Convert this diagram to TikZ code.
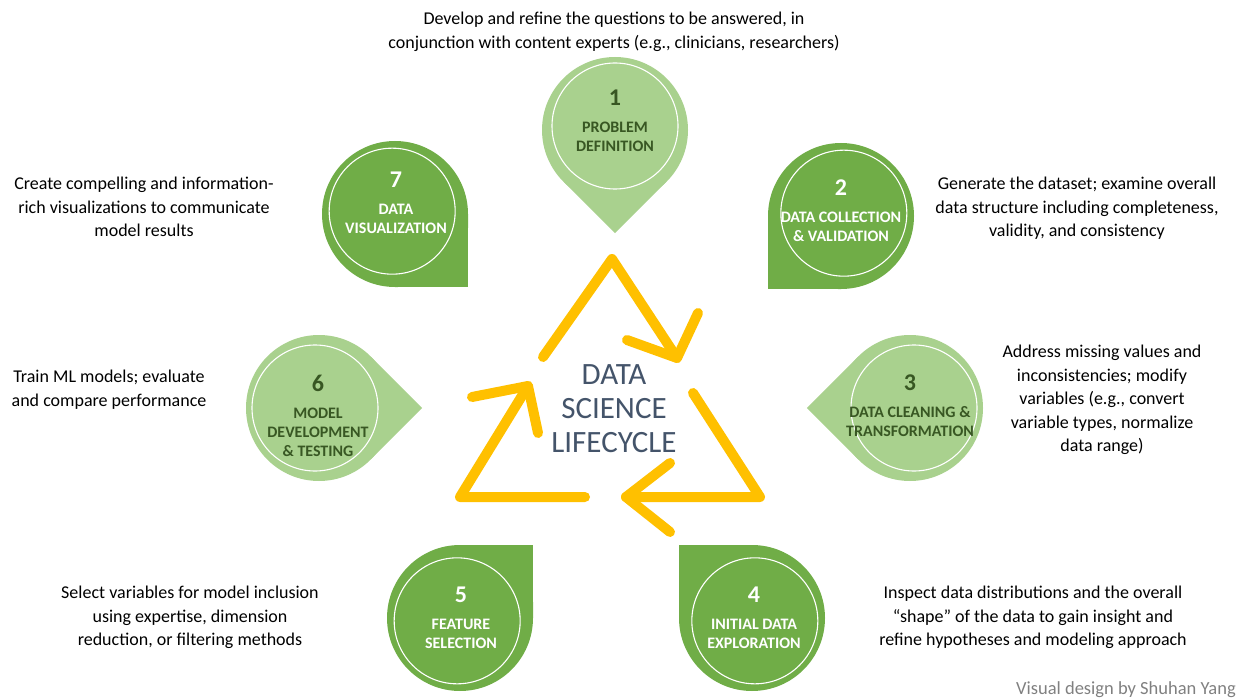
\documentclass[tikz,border=0pt]{standalone}
\usepackage{fontspec}
\setmainfont{Carlito}
\usetikzlibrary{calc}

\definecolor{leafdark}{HTML}{70AD47}
\definecolor{leaflight}{HTML}{A9D18E}
\definecolor{leaftext}{HTML}{385723}
\definecolor{cycleyellow}{HTML}{FFC000}
\definecolor{slate}{HTML}{44546A}

\begin{document}
\begin{tikzpicture}[x=1pt,y=-1pt,
    petaltext/.style={anchor=north,inner sep=0pt,align=center,font=\fontsize{16}{19}\selectfont\bfseries},
    desc/.style={anchor=north,inner sep=0pt,align=center,font=\fontsize{18}{23.5}\selectfont},
    cyc/.style={draw=cycleyellow,line width=10pt,line cap=round,line join=round}]
  \useasboundingbox (0,0) rectangle (1240,698);

  % petals: circle plus one square corner pointing at the middle
  \foreach \x/\y/\a/\col in {615/130/90/leaflight, 841/216/135/leafdark, 910/408/180/leaflight, 752/618/225/leafdark, 460/618/315/leafdark, 319/408/0/leaflight, 395/214/45/leafdark}
  {
    \fill[\col] (\x,\y) circle (73);
    \fill[\col] (\x,\y) -- +({\a-45}:73) -- +(\a:103.2) -- +({\a+45}:73) -- cycle;
    \draw[white,line width=1.1pt] (\x,\y) ++({\a+180}:4) circle (63);
  }

  % petal labels
  \foreach \x/\y/\i/\col/\t in {615/90/1/leaftext/{PROBLEM\\DEFINITION}, 841/180/2/white/{DATA COLLECTION\\\& VALIDATION}, 910/375/3/leaftext/{DATA CLEANING \&\\TRANSFORMATION}, 754/587/4/white/{INITIAL DATA\\EXPLORATION}, 461/587/5/white/{FEATURE\\SELECTION}, 318/375/6/leaftext/{MODEL\\DEVELOPMENT\\\& TESTING}, 396/172/7/white/{DATA\\VISUALIZATION}}
  \node[petaltext,text=\col] (p\i) at (\x,\y) {{\fontsize{24}{24}\selectfont\i}\\[8pt]\t};

  % descriptions
  \node[desc] (d1) at (614,12) {Develop and refine the questions to be answered, in\\conjunction with content experts (e.g., clinicians, researchers)};
  \node[desc] (d2) at (1077,177) {Generate the dataset; examine overall\\data structure including completeness,\\validity, and consistency};
  \node[desc] (d3) at (1102,345) {Address missing values and\\inconsistencies; modify\\variables (e.g., convert\\variable types, normalize\\data range)};
  \node[desc] (d4) at (1033,586) {Inspect data distributions and the overall\\“shape” of the data to gain insight and\\refine hypotheses and modeling approach};
  \node[desc] (d5) at (190,586) {Select variables for model inclusion\\using expertise, dimension\\reduction, or filtering methods};
  \node[desc] (d6) at (109,370) {Train ML models; evaluate\\and compare performance};
  \node[desc] (d7) at (144,177) {Create compelling and information-\\rich visualizations to communicate\\model results};

  % cycle arrows
  \coordinate (a1s) at (543,357);
  \coordinate (a1m) at (612,259);
  \coordinate (a1e) at (677,358);
  \coordinate (a1l) at (627,340);
  \coordinate (a1r) at (698,313);
  \coordinate (a2s) at (693,393);
  \coordinate (a2m) at (760,497);
  \coordinate (a2e) at (626,497);
  \coordinate (a2l) at (670,463);
  \coordinate (a2r) at (670,532);
  \coordinate (a3s) at (585,497);
  \coordinate (a3m) at (460,497);
  \coordinate (a3e) at (528,386);
  \coordinate (a3l) at (472,397);
  \coordinate (a3r) at (538,433);
  \foreach \n in {1,2,3}
  {
    \draw[cyc] (a\n s) -- (a\n m) -- (a\n e);
    \draw[cyc] (a\n l) -- (a\n e) -- (a\n r);
  }

  \node[inner sep=0pt,align=center,text=slate,font=\fontsize{31}{34}\selectfont] (title) at (614,409) {DATA\\SCIENCE\\LIFECYCLE};

  \node[anchor=base east,inner sep=0pt,text=gray,font=\fontsize{18.5}{20}\selectfont] (credit) at (1236,694) {Visual design by Shuhan Yang};
\end{tikzpicture}
\end{document}
